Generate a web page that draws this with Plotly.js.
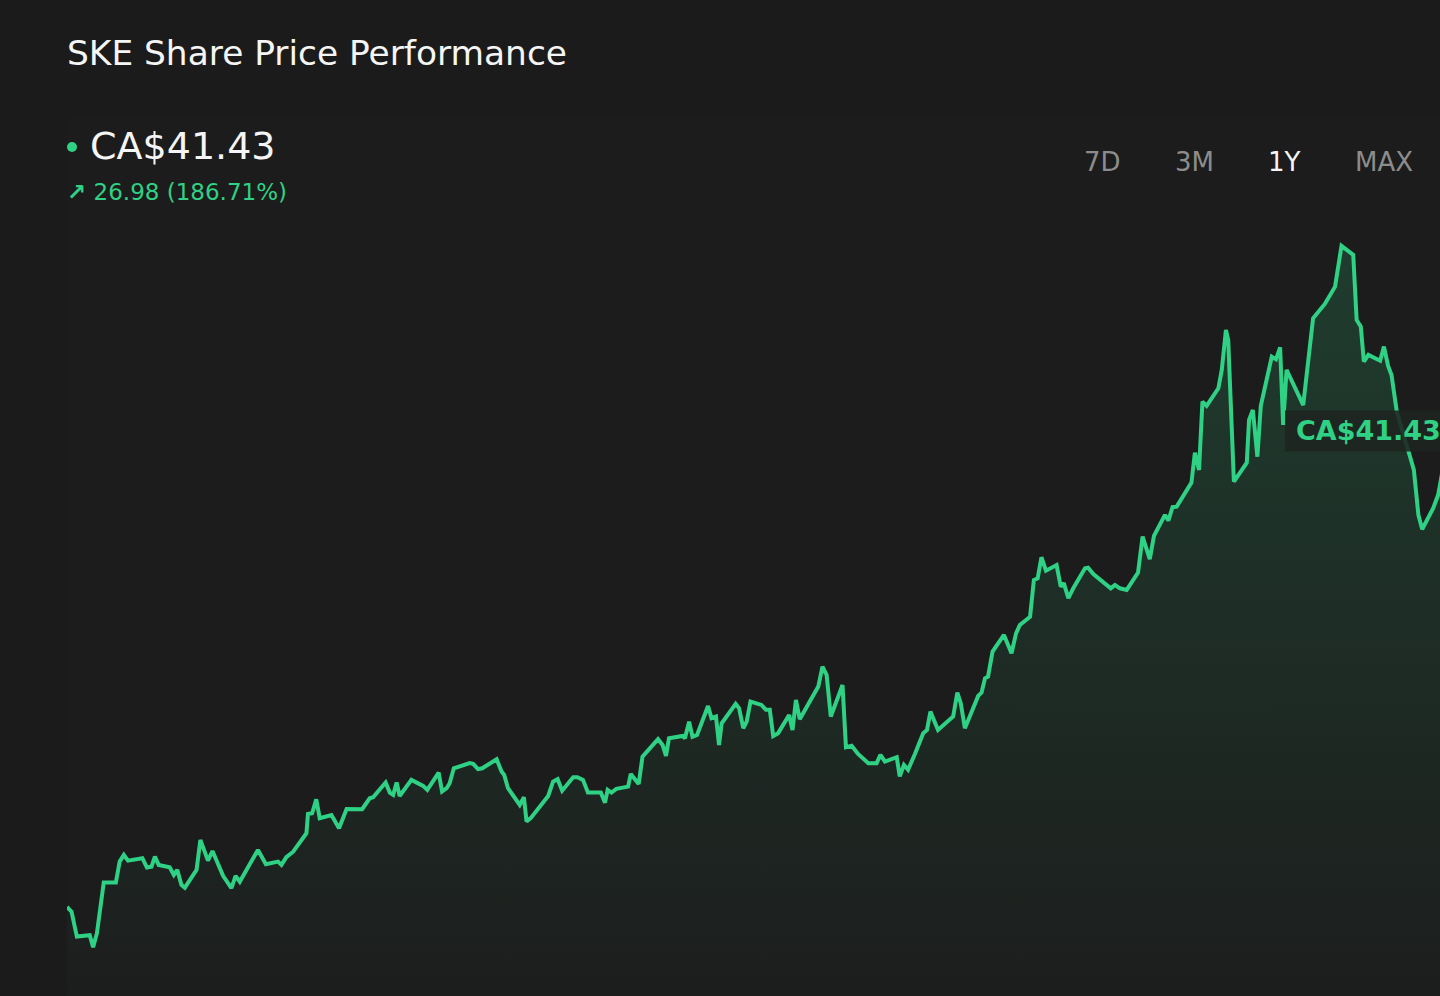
<!DOCTYPE html>
<html>
<head>
<meta charset="utf-8">
<script src="https://cdn.plot.ly/plotly-3.0.1.min.js"></script>
<style>
  html, body { margin: 0; padding: 0; background: #1b1b1b; }
  #chart { width: 1440px; height: 996px; }
</style>
</head>
<body>
<div id="chart"></div>
<script>
// ---- data ----
const chartTitle = "SKE Share Price Performance";
const currency = "CA$";
const lastPrice = 41.43;
const priceChange = 26.98;
const priceChangePct = 186.71;
const rangeLabels = ["7D", "3M", "1Y", "MAX"];
const activeRange = "1Y";

// days since the start of the 1-year window
const days = [0,1.2,2.6,6.0,6.9,7.9,9.7,12.9,13.9,15.0,
16.1,19.9,21.1,22.3,23.2,24.2,27.1,28.2,29.1,30.2,
31.1,34.2,35.2,37.2,38.4,41.2,43.4,44.5,45.6,50.4,
52.5,55.7,56.6,57.9,59.7,63.2,63.6,64.7,65.8,66.7,
69.8,71.8,73.8,77.9,79.9,80.8,84.1,85.2,86.1,87.0,
87.8,90.9,94.0,95.1,98.1,99.0,100.2,101.0,102.1,106.3,
107.2,108.5,109.6,113.4,114.7,115.4,116.4,119.5,120.6,121.3,
122.4,127.0,128.3,129.5,130.7,133.6,134.7,136.2,137.5,140.9,
142.0,142.7,143.7,145.0,148.1,148.8,150.9,151.9,156.0,157.2,
158.1,158.9,162.5,163.1,164.2,165.1,166.3,169.2,170.1,171.3,
172.1,172.8,176.5,177.4,178.5,179.4,180.4,183.3,184.5,185.5,
186.4,187.7,190.6,191.5,192.4,193.4,198.3,199.4,200.5,201.6,
204.7,205.6,207.1,208.8,211.5,213.7,214.7,215.9,219.0,219.8,
220.9,222.0,223.8,226.0,227.0,227.9,229.9,233.2,233.9,235.0,
235.9,237.0,240.5,241.4,242.3,243.1,244.3,247.3,249.3,250.5,
251.5,254.2,255.2,256.2,257.2,258.4,261.2,262.3,263.1,264.3,
265.6,268.7,269.5,270.9,275.5,276.6,277.9,279.7,282.7,283.9,
285.8,286.9,288.9,289.8,290.7,291.8,292.9,296.8,297.7,298.8,
299.7,300.8,303.9,304.8,305.9,306.5,308.0,311.4,312.0,313.0,
314.2,315.1,318.0,319.1,320.2,321.0,321.9,326.3,328.9,329.7,
332.0,334.7,336.4,339.5,340.4,341.5,342.3,343.5,346.6,347.6,
348.7,349.6,351.0,354.5,355.5,356.7,357.7,360.6,361.9,365];

// share price, CA$
const prices = [14.45,14.18,12.77,12.85,12.17,12.96,15.83,15.83,17.02,17.40,
17.07,17.21,16.68,16.73,17.30,16.83,16.70,16.26,16.55,15.70,
15.54,16.55,18.25,17.07,17.62,16.21,15.51,16.21,15.88,17.68,
16.87,17.02,16.83,17.27,17.58,18.63,19.72,19.76,20.55,19.48,
19.66,18.91,20.00,19.99,20.61,20.67,21.50,20.93,20.80,21.50,
20.74,21.65,21.31,21.08,22.06,20.99,21.18,21.46,22.31,22.60,
22.56,22.26,22.31,22.82,22.12,21.93,21.18,20.23,20.67,19.29,
19.48,20.74,21.55,21.69,21.04,21.80,21.80,21.65,20.93,20.93,
20.36,21.08,20.93,21.14,21.27,21.99,21.42,22.97,23.96,23.63,
23.01,24.01,24.14,24.01,24.95,24.10,24.20,25.84,25.15,25.24,
23.63,24.86,25.96,25.71,24.58,24.95,26.09,25.90,25.62,25.62,
24.14,24.30,25.33,24.48,26.18,25.09,26.94,28.07,27.60,25.24,
27.03,23.50,23.58,23.12,22.60,22.60,23.07,22.69,22.94,21.85,
22.50,22.22,23.12,24.30,24.48,25.52,24.48,25.05,25.24,26.60,
26.00,24.58,26.41,26.60,27.41,27.50,28.92,29.87,28.83,29.96,
30.43,30.90,32.98,33.08,34.27,33.51,33.83,32.61,32.80,31.95,
32.51,33.65,33.68,33.32,32.51,32.70,32.51,32.42,33.40,35.44,
34.16,35.48,36.23,36.67,36.35,37.11,37.14,38.50,40.20,39.22,
43.09,42.85,43.85,44.89,47.15,46.59,38.56,39.63,42.05,42.62,
39.97,42.85,45.64,45.49,46.17,41.77,44.89,42.90,47.82,48.01,
48.63,49.61,51.92,51.41,47.72,47.34,45.36,45.74,45.41,46.21,
45.11,44.60,42.52,39.97,39.22,36.67,35.86,37.05,37.80,41.43];

// ---- styles ----
const GREEN = "#2fd184";
const FONT = "DejaVu Sans";
const W = 1440, H = 996;
const M = { l: 67, r: 0, t: 118, b: 0 };
const plotW = W - M.l - M.r, plotH = H - M.t - M.b;
const px = x => (x - M.l) / plotW;      // pixel -> paper x
const py = y => (H - M.b - y) / plotH;  // pixel -> paper y

const fmt = v => v.toFixed(2);

const trace = {
  type: "scatter",
  mode: "lines",
  x: days,
  y: prices,
  line: { color: GREEN, width: 4, shape: "linear" },
  fill: "tozeroy",
  fillcolor: "rgba(47,209,132,0.08)",
  fillgradient: {
    type: "vertical",
    start: 9.4,
    stop: 52,
    colorscale: [[0, "rgba(47,209,132,0.01)"], [1, "rgba(47,209,132,0.18)"]]
  },
  hoverinfo: "skip"
};

const annotations = [
  { xref: "paper", yref: "paper", x: px(88), y: py(146), xanchor: "left", yanchor: "middle",
    text: currency + fmt(lastPrice), showarrow: false,
    font: { family: FONT, size: 38, color: "#f5f5f5" } },
  { xref: "paper", yref: "paper", x: px(65), y: py(192), xanchor: "left", yanchor: "middle",
    text: "<b>↗</b> " + fmt(priceChange) + " (" + fmt(priceChangePct) + "%)", showarrow: false,
    font: { family: FONT, size: 23, color: GREEN } },
  { xref: "paper", yref: "y", x: px(1294), y: lastPrice, xanchor: "left", yanchor: "middle",
    text: "<b>" + currency + fmt(lastPrice) + "</b>", showarrow: false,
    font: { family: FONT, size: 27, color: GREEN } }
];
const btnCenters = [1102.5, 1194, 1284.5, 1384];
rangeLabels.forEach((lab, i) => {
  annotations.push({
    xref: "paper", yref: "paper", x: px(btnCenters[i]), y: py(162),
    xanchor: "center", yanchor: "middle", text: lab, showarrow: false,
    font: { family: FONT, size: 26, color: lab === activeRange ? "#f5f5f5" : "#8c8c8c" }
  });
});

const shapes = [
  { type: "circle", xref: "paper", yref: "paper", xsizemode: "pixel", ysizemode: "pixel",
    xanchor: px(72), yanchor: py(147), x0: -5, x1: 5, y0: -5, y1: 5,
    fillcolor: GREEN, line: { width: 0 } },
  { type: "rect", xref: "paper", yref: "y", ysizemode: "pixel", yanchor: lastPrice,
    x0: px(1285), x1: px(1460), y0: -20.5, y1: 20.5, layer: "above",
    fillcolor: "rgba(30,36,32,0.88)", line: { width: 0 } }
];

const layout = {
  width: W, height: H,
  margin: M,
  paper_bgcolor: "#1b1b1b",
  plot_bgcolor: "#1c1c1c",
  showlegend: false,
  title: {
    text: chartTitle, xref: "container", yref: "container",
    x: 67 / W, xanchor: "left", y: 1 - 53 / H, yanchor: "middle",
    font: { family: FONT, size: 34.4, color: "#f5f5f5" }
  },
  xaxis: { visible: false, range: [0, 362.4], fixedrange: true },
  yaxis: { visible: false, range: [9.40, 59.17], fixedrange: true },
  annotations: annotations,
  shapes: shapes,
  font: { family: FONT }
};

Plotly.newPlot("chart", [trace], layout, { displayModeBar: false, staticPlot: true });
</script>
</body>
</html>
